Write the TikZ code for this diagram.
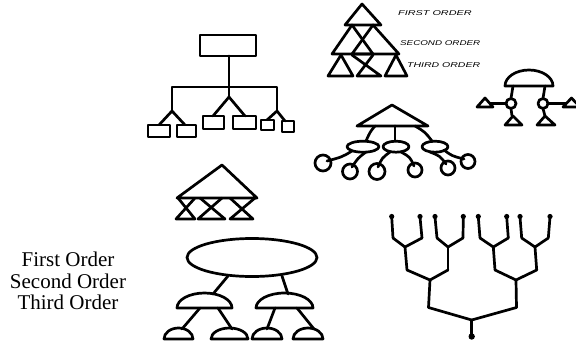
\documentclass[tikz,border=0pt]{standalone}
\usepackage{fontspec}
\setmainfont{Liberation Serif}
\newfontfamily\handfont{Liberation Sans}
\begin{document}
\begin{tikzpicture}[x=1pt,y=-1pt,
  sk/.style={draw=black, line width=2.7pt, line join=round, line cap=round},
  lbl/.style={inner sep=0pt, anchor=base, font=\fontsize{21}{21}\selectfont},
  hand/.style={inner sep=0pt, anchor=west, font=\handfont\itshape\fontsize{7}{8}\selectfont},
  dot/.style={fill=black}]
\useasboundingbox (0,0) rectangle (576,343);
\fill[white] (0,0) rectangle (576,343);
\clip (0,0) rectangle (576,343);

% left labels
\node[lbl] (t1) at (68,266.7) {First Order};
\node[lbl] (t2) at (68,288) {Second Order};
\node[lbl] (t3) at (68,309.5) {Third Order};

% handwritten labels
\node[hand] (h1) at (398,13) {\scalebox{1.55}[1]{FIRST ORDER}};
\node[hand] (h2) at (400,43) {\scalebox{1.4}[1]{SECOND ORDER}};
\node[hand] (h3) at (407,65) {\scalebox{1.5}[1]{THIRD ORDER}};

% ---- diagram 1: org chart
\draw[sk] (200,35) rectangle (256,56);
\draw[sk] (229,56) -- (229,97);
\draw[sk] (172,111) -- (172,87) -- (277,87) -- (277,111);
\draw[sk] (159,125) -- (172,111) -- (185,125);
\draw[sk] (213,116) -- (229,97) -- (245,116);
\draw[sk] (267,120) -- (277,111) -- (285,121);
\draw[sk] (148,125) rectangle (170,137);
\draw[sk] (177,125) rectangle (196,137);
\draw[sk] (203,116) rectangle (224,129);
\draw[sk] (233,116) rectangle (256,129);
\draw[sk] (261,120) rectangle (274,130);
\draw[sk] (282,121) rectangle (294,132);

% ---- diagram 2: triangle pyramid
\draw[sk] (362,4) -- (381,25) -- (345,25) -- cycle;
\draw[sk] (352,25) -- (373,54) -- (332,54) -- cycle;
\draw[sk] (373,25) -- (399,54) -- (352,54) -- cycle;
\draw[sk] (341,55) -- (353,76) -- (328,76) -- cycle;
\draw[sk] (352,55) -- (381,76) -- (357,76) -- (373,55);
\draw[sk] (396,55) -- (407,76) -- (385,76) -- cycle;

% ---- diagram 3: dome with circles
\draw[sk] (505,86) arc[start angle=180,end angle=360,x radius=24,y radius=16] -- cycle;
\draw[sk] (513,86) -- (511,98.5);
\draw[sk] (545,86) -- (543,98.5);
\draw[sk] (511,103.5) circle[radius=5];
\draw[sk] (543,103.5) circle[radius=5];
\draw[sk] (485,98) -- (493,107) -- (477,107) -- cycle;
\draw[sk] (490,103.5) -- (506,103.5);
\draw[sk] (571.5,98) -- (580,107) -- (563,107) -- cycle;
\draw[sk] (548,103.5) -- (566,103.5);
\draw[sk] (511,108.5) -- (512,116);
\draw[sk] (543,108.5) -- (545,116);
\draw[sk] (513,116) -- (522,125) -- (505,125) -- cycle;
\draw[sk] (545,116) -- (555,125) -- (537,125) -- cycle;

% ---- diagram 4: triangle, ellipses, circles
\draw[sk] (392,105) -- (428,126) -- (357,126) -- cycle;
\draw[sk] (363,146.7) ellipse[x radius=16,y radius=5.5];
\draw[sk] (396,146.7) ellipse[x radius=13,y radius=5.5];
\draw[sk] (435,146.7) ellipse[x radius=13,y radius=5.5];
\draw[sk] (375,126) .. controls (370,132) .. (366,141);
\draw[sk] (395,126) -- (395,141);
\draw[sk] (415,126) .. controls (425,132) .. (432,141);
\draw[sk] (323,163) circle[radius=8];
\draw[sk] (350,171.5) circle[radius=7.5];
\draw[sk] (377,171.5) circle[radius=8];
\draw[sk] (415,170) circle[radius=7];
\draw[sk] (448,168) circle[radius=7];
\draw[sk] (468,161.5) circle[radius=7];
\draw[sk] (352,151) .. controls (342,157) .. (327,161);
\draw[sk] (366,152) .. controls (358,158) .. (352,167);
\draw[sk] (390,152) .. controls (382,158) .. (378,167);
\draw[sk] (401,152) .. controls (410,157) .. (414,166);
\draw[sk] (430,152) .. controls (440,156) .. (446,164);
\draw[sk] (444,150) .. controls (452,156) .. (464,159);

% ---- diagram 5: triangle with hourglasses
\draw[sk] (222,165) -- (257,198) -- (177,198) -- cycle;
\draw[sk] (178,198) -- (195,219) -- (176,219) -- (195,198);
\draw[sk] (200,198) -- (225,219) -- (198,219) -- (222,198);
\draw[sk] (230,198) -- (253,219) -- (230,219) -- (255,198);

% ---- diagram 6: ellipse with domes
\draw[sk] (252,257.5) ellipse[x radius=65,y radius=19];
\draw[sk] (228,276) -- (213,294);
\draw[sk] (282,276) -- (288,294);
\draw[sk] (177,308) arc[start angle=180,end angle=360,x radius=27.5,y radius=15] -- cycle;
\draw[sk] (256,308) arc[start angle=180,end angle=360,x radius=28.5,y radius=15] -- cycle;
\draw[sk] (200,308) -- (182,329);
\draw[sk] (218,308) -- (232,329);
\draw[sk] (275,308) -- (267,329);
\draw[sk] (297,308) -- (314,329);
\draw[sk] (164,339) arc[start angle=180,end angle=360,x radius=14.5,y radius=11] -- cycle;
\draw[sk] (211,339) arc[start angle=180,end angle=360,x radius=18.5,y radius=11] -- cycle;
\draw[sk] (252,339) arc[start angle=180,end angle=360,x radius=15,y radius=11] -- cycle;
\draw[sk] (293,339) arc[start angle=180,end angle=360,x radius=15,y radius=11] -- cycle;

% ---- diagram 7: binary tree
\coordinate (root) at (471.7,320);
\coordinate (L) at (428.5,307.5);
\coordinate (R) at (516.5,307.5);
\draw[sk] (471.7,336) -- (root);
\fill[dot] (471.7,336.5) circle[radius=3.2];
\draw[sk] (L) -- (root) -- (R);
\draw[sk] (L) -- (430,280);
\draw[sk] (407,270) -- (430,280) -- (448,270);
\draw[sk] (407,270) -- (405,247);
\draw[sk] (448,270) -- (448,247);
\draw[sk] (393,238) -- (405,247) -- (422,238);
\draw[sk] (437,238) -- (448,247) -- (463,238);
\draw[sk] (393,238) -- (391.7,217);
\draw[sk] (422,238) -- (420,217);
\draw[sk] (437,238) -- (435,217);
\draw[sk] (463,238) -- (463.3,217);
\draw[sk] (R) -- (516,280);
\draw[sk] (495,270) -- (516,280) -- (536.7,270);
\draw[sk] (495,270) -- (493.3,247);
\draw[sk] (536.7,270) -- (535,247);
\draw[sk] (480,238) -- (493.3,247) -- (508.3,238);
\draw[sk] (521.7,238) -- (535,247) -- (548.3,238);
\draw[sk] (480,238) -- (478.3,217);
\draw[sk] (508.3,238) -- (506.7,217);
\draw[sk] (521.7,238) -- (520,217);
\draw[sk] (548.3,238) -- (550,217);
\foreach \px in {391.7,420,435,463.3,478.3,506.7,520,550}
  \fill[dot] (\px,216.5) circle[radius=2.6];
\end{tikzpicture}
\end{document}
